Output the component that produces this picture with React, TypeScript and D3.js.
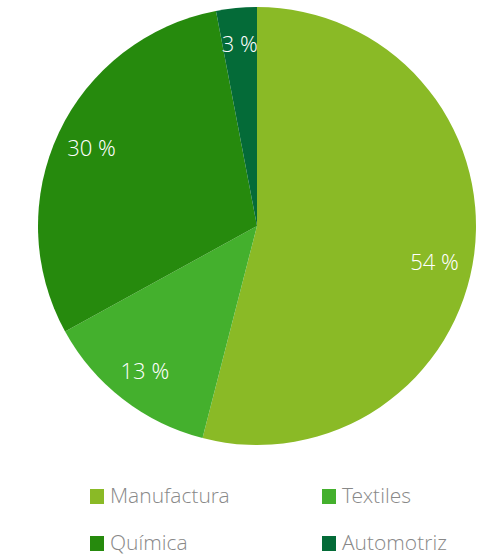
import React from "react";
import * as d3 from "d3";

const categories = ["Manufactura", "Textiles", "Química", "Automotriz"];
const values = [54, 13, 30, 3];
const colors = ["#8aba26", "#44b02d", "#268a0d", "#046b38"];
const labels = ["54 %", "13 %", "30 %", "3 %"];

export default function App() {
  const W = 491, H = 556;
  const cx = 257, cy = 226, r = 219;
  const pie = d3.pie<number>().sort(null).value((d) => d)(values);
  const arc = d3.arc<d3.PieArcDatum<number>>().innerRadius(0).outerRadius(r);
  const labelArc = d3.arc<d3.PieArcDatum<number>>().innerRadius(183 * 2 - r).outerRadius(r);
  const legendX = d3.scaleOrdinal<number, number>().domain([0, 1]).range([90, 322]);
  const legendY = d3.scaleOrdinal<number, number>().domain([0, 1]).range([489, 536]);
  return (
    <svg width={W} height={H} style={{ position: "absolute", left: 0, top: 0 }}
      fontFamily="'Open Sans Light', 'Open Sans', sans-serif">
      <g transform={`translate(${cx},${cy})`}>
        {pie.map((p, i) => (
          <path key={i} d={arc(p) as string} fill={colors[i]} />
        ))}
        {pie.map((p, i) => {
          const [x, y] = labelArc.centroid(p);
          return (
            <text key={i} x={x - (i === 0 ? 4 : 0)} y={y + (i === 0 ? 12 : -1)} textAnchor="middle" dominantBaseline="central"
              fill="#fff" fontSize={22} fontWeight={300}>{labels[i]}</text>
          );
        })}
      </g>
      {categories.map((c, i) => {
        const col = i % 2, row = Math.floor(i / 2);
        const x = legendX(col), y = legendY(row);
        return (
          <g key={c}>
            <rect x={x} y={y} width={14} height={15} fill={colors[i]} />
            <text x={x + 20} y={y + 14} fill="#888" fontSize={21} fontWeight={300}>{c}</text>
          </g>
        );
      })}
    </svg>
  );
}
